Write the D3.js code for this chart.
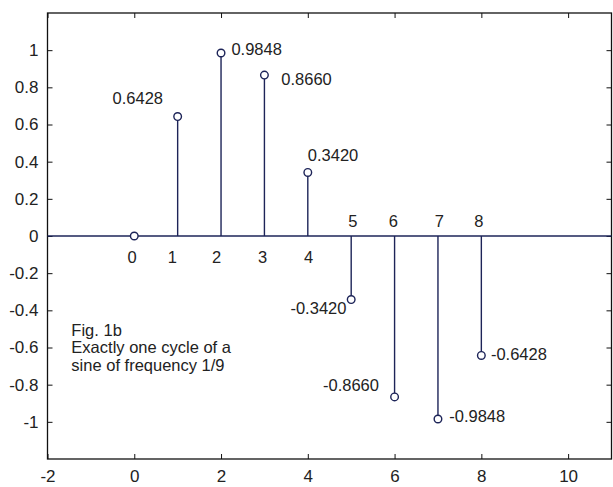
<!DOCTYPE html>
<html>
<head>
<meta charset="utf-8">
<script src="https://cdn.jsdelivr.net/npm/d3@7"></script>
<style>
  html, body { margin: 0; padding: 0; background: #fff; }
  svg text { font-family: "Liberation Sans", Arial, sans-serif; fill: #222; }
</style>
</head>
<body>
<svg id="chart" width="613" height="487"></svg>
<script>
// Samples of one cycle of sin(2*pi*n/9)
const sampleIndex = [0, 1, 2, 3, 4, 5, 6, 7, 8];
const sampleValue = [0, 0.6428, 0.9848, 0.8660, 0.3420, -0.3420, -0.8660, -0.9848, -0.6428];

// Value annotations (text anchors in data units, left aligned)
const valueText  = ["0.6428", "0.9848", "0.8660", "0.3420", "-0.3420", "-0.8660", "-0.9848", "-0.6428"];
const valueTextX = [-0.50, 2.24, 3.39, 4.00, 3.60, 4.35, 7.26, 8.22];
const valueTextY = [0.741, 1.005, 0.841, 0.434, -0.386, -0.803, -0.968, -0.634];

// Index annotations (centred, data units)
const indexText  = ["0", "1", "2", "3", "4", "5", "6", "7", "8"];
const indexTextX = [-0.05, 0.88, 1.90, 2.96, 4.02, 5.04, 5.97, 7.03, 7.94];
const indexTextY = [-0.114, -0.114, -0.114, -0.114, -0.114, 0.082, 0.082, 0.082, 0.082];

// Caption
const noteLines = ["Fig. 1b", "Exactly one cycle of a", "sine of frequency 1/9"];
const noteX = -1.45, noteY = -0.60;

// Axis limits and ticks
const xLimits = [-2, 11];
const yLimits = [-1.2, 1.2];
const xTicks = [-2, 0, 2, 4, 6, 8, 10];
const yTicks = [-1, -0.8, -0.6, -0.4, -0.2, 0, 0.2, 0.4, 0.6, 0.8, 1];

const box = { left: 47.5, right: 611.5, top: 13, bottom: 459 };
const stemColor = "#1d2458";
const fontSize = 16.5;
const tickFontSize = 17;

const svg = d3.select("#chart");
const x = d3.scaleLinear().domain(xLimits).range([box.left, box.right]);
const y = d3.scaleLinear().domain(yLimits).range([box.bottom, box.top]);

const tickLen = 5;
// Plain hyphen-minus for negative tick labels
const fmtTick = d => String(+d.toFixed(1));

// Bottom axis (ticks point inward)
const gx = svg.append("g").attr("transform", `translate(0,${box.bottom})`)
  .call(d3.axisBottom(x).tickValues(xTicks).tickSizeInner(-tickLen).tickSizeOuter(0).tickPadding(tickLen + 6).tickFormat(fmtTick));
// Top axis, ticks only
const gxt = svg.append("g").attr("transform", `translate(0,${box.top})`)
  .call(d3.axisTop(x).tickValues(xTicks).tickSizeInner(-tickLen).tickSizeOuter(0).tickFormat(""));
// Left axis
const gy = svg.append("g").attr("transform", `translate(${box.left},0)`)
  .call(d3.axisLeft(y).tickValues(yTicks).tickSizeInner(-tickLen).tickSizeOuter(0).tickPadding(tickLen + 4).tickFormat(fmtTick));
// Right axis, ticks only
const gyr = svg.append("g").attr("transform", `translate(${box.right},0)`)
  .call(d3.axisRight(y).tickValues(yTicks).tickSizeInner(-tickLen).tickSizeOuter(0).tickFormat(""));

[gx, gxt, gy, gyr].forEach(g => {
  g.select(".domain").remove();
  g.selectAll(".tick line").attr("stroke", "#111").attr("stroke-width", 1);
  g.selectAll(".tick text").attr("font-size", tickFontSize).attr("fill", "#222")
    .style("font-family", '"Liberation Sans", Arial, sans-serif');
});

// Axes box
svg.append("rect")
  .attr("x", box.left).attr("y", box.top)
  .attr("width", box.right - box.left).attr("height", box.bottom - box.top)
  .attr("fill", "none").attr("stroke", "#111").attr("stroke-width", 1.3);

// Stem baseline at zero
svg.append("line")
  .attr("x1", x(xLimits[0])).attr("x2", x(xLimits[1]))
  .attr("y1", y(0)).attr("y2", y(0))
  .attr("stroke", stemColor).attr("stroke-width", 1.3);

const samples = sampleIndex.map((n, i) => ({ n, v: sampleValue[i] }));

// Stems
svg.append("g").selectAll("line").data(samples).join("line")
  .attr("x1", d => x(d.n)).attr("x2", d => x(d.n))
  .attr("y1", y(0)).attr("y2", d => y(d.v))
  .attr("stroke", stemColor).attr("stroke-width", 1.4);

// Open circle markers
svg.append("g").selectAll("circle").data(samples).join("circle")
  .attr("cx", d => x(d.n)).attr("cy", d => y(d.v)).attr("r", 3.8)
  .attr("fill", "#fff").attr("stroke", stemColor).attr("stroke-width", 1.4);

// Value annotations
svg.append("g").selectAll("text").data(valueText).join("text")
  .attr("x", (d, i) => x(valueTextX[i])).attr("y", (d, i) => y(valueTextY[i]))
  .attr("dy", "0.35em").attr("font-size", fontSize)
  .text(d => d);

// Index annotations
svg.append("g").selectAll("text").data(indexText).join("text")
  .attr("x", (d, i) => x(indexTextX[i])).attr("y", (d, i) => y(indexTextY[i]))
  .attr("dy", "0.35em").attr("text-anchor", "middle").attr("font-size", fontSize)
  .text(d => d);

// Caption block
const lineStep = 17.5;
svg.append("text")
  .attr("x", x(noteX)).attr("y", y(noteY) - lineStep)
  .attr("font-size", fontSize)
  .selectAll("tspan").data(noteLines).join("tspan")
  .attr("x", x(noteX)).attr("dy", (d, i) => i === 0 ? "0.35em" : lineStep)
  .text(d => d);
</script>
</body>
</html>
